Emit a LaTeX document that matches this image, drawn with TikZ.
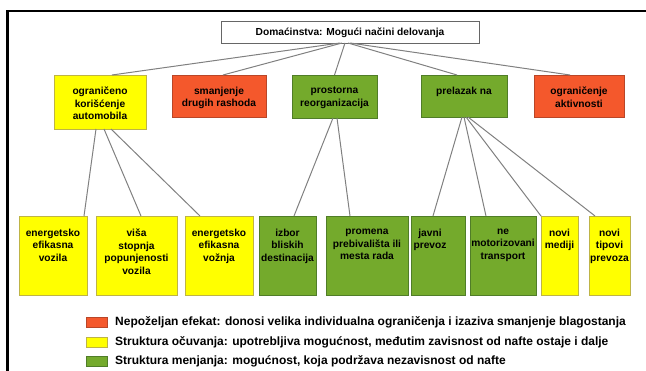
\documentclass[tikz,border=0pt]{standalone}
\usepackage{fontspec}
\setmainfont{Liberation Sans}
\usetikzlibrary{positioning}

\begin{document}
\begin{tikzpicture}[x=1pt,y=-1pt]

% Colors
\definecolor{Yfill}{RGB}{255,255,0}
\definecolor{Ydraw}{RGB}{190,180,70}
\definecolor{Rfill}{RGB}{244,88,44}
\definecolor{Rdraw}{RGB}{185,70,40}
\definecolor{Gfill}{RGB}{116,170,44}
\definecolor{Gdraw}{RGB}{80,125,40}
\definecolor{linkgray}{RGB}{128,128,128}

% Styles
\tikzset{
  box/.style={
    rectangle,
    anchor=north west,
    inner sep=0pt,
    outer sep=0pt,
    line width=0.8pt
  },
  Ybox/.style={box, draw=Ydraw, fill=Yfill},
  Rbox/.style={box, draw=Rdraw, fill=Rfill},
  Gbox/.style={box, draw=Gdraw, fill=Gfill},
  Wbox/.style={box, draw=black!60, fill=white},
  btext/.style={
    anchor=north,
    align=center,
    inner sep=0pt,
    font=\bfseries\fontsize{10.2}{12.8}\selectfont
  },
  ltext/.style={
    anchor=west,
    inner sep=0pt,
    font=\bfseries\fontsize{12}{14}\selectfont
  },
  link/.style={draw=linkgray, line width=1pt}
}

\useasboundingbox (0,0) rectangle (646,371);

% Frame
\draw[line width=2.4pt] (7.5,371) |- (646,11);

% Top box
\node[Wbox, minimum width=258pt, minimum height=22pt] (top) at (221,21) {};
\node[btext, anchor=center] (topt) at ([yshift=-1pt]top.center) {Domaćinstva: Mogući načini delovanja};

% Middle row
\node[Ybox, minimum width=92pt, minimum height=54pt] (m1) at (54,75) {};
\node[Rbox, minimum width=94pt, minimum height=42pt] (m2) at (172,75) {};
\node[Gbox, minimum width=85pt, minimum height=43pt] (m3) at (292,75) {};
\node[Gbox, minimum width=86pt, minimum height=42pt] (m4) at (421,75) {};
\node[Rbox, minimum width=90pt, minimum height=42pt] (m5) at (534,75) {};

\node[btext] (m1t) at ([yshift=-11.5pt]m1.north) {ograničeno\\korišćenje\\automobila};
\node[btext] (m2t) at ([yshift=-11.5pt]m2.north) {smanjenje\\drugih rashoda};
\node[btext] (m3t) at ([yshift=-11.5pt]m3.north) {prostorna\\reorganizacija};
\node[btext] (m4t) at ([yshift=-11.5pt]m4.north) {prelazak na};
\node[btext] (m5t) at ([yshift=-11.5pt]m5.north) {ograničenje\\aktivnosti};

% Bottom row
\node[Ybox, minimum width=68pt, minimum height=79pt] (b1) at (19,216) {};
\node[Ybox, minimum width=81pt, minimum height=79pt] (b2) at (96,216) {};
\node[Ybox, minimum width=68pt, minimum height=79pt] (b3) at (185,216) {};
\node[Gbox, minimum width=57pt, minimum height=79pt] (b4) at (259,216) {};
\node[Gbox, minimum width=82pt, minimum height=79pt] (b5) at (326,216) {};
\node[Gbox, minimum width=54pt, minimum height=79pt] (b6) at (411,216) {};
\node[Gbox, minimum width=66pt, minimum height=79pt] (b7) at (470,216) {};
\node[Ybox, minimum width=37pt, minimum height=79pt] (b8) at (541,216) {};
\node[Ybox, minimum width=41pt, minimum height=79pt] (b9) at (589,216) {};

\node[btext] (b1t) at ([yshift=-12.5pt]b1.north) {energetsko\\efikasna\\vozila};
\node[btext] (b2t) at ([yshift=-12.5pt]b2.north) {viša\\stopnja\\popunjenosti\\vozila};
\node[btext] (b3t) at ([yshift=-12.5pt]b3.north) {energetsko\\efikasna\\vožnja};
\node[btext] (b4t) at ([yshift=-12.5pt]b4.north) {izbor\\bliskih\\destinacija};
\node[btext] (b5t) at ([yshift=-12.5pt]b5.north) {promena\\prebivališta ili\\mesta rada};
\node[btext] (b6t) at ([xshift=-8pt,yshift=-12.5pt]b6.north) {javni\\prevoz};
\node[btext] (b7t) at ([yshift=-12.5pt]b7.north) {ne\\motorizovani\\transport};
\node[btext] (b8t) at ([yshift=-12.5pt]b8.north) {novi\\mediji};
\node[btext] (b9t) at ([yshift=-12.5pt]b9.north) {novi\\tipovi\\prevoza};

% Links top -> middle
\draw[link] ([xshift=-10pt]top.south) -- ([xshift=12pt]m1.north);
\draw[link] ([xshift=-8pt]top.south) -- ([xshift=4pt]m2.north);
\draw[link] ([xshift=-5pt]top.south) -- (m3.north);
\draw[link] ([xshift=-2pt]top.south) -- ([xshift=-7pt]m4.north);
\draw[link] (top.south) -- ([xshift=-9pt]m5.north);

% Links middle -> bottom
\draw[link] ([xshift=-4pt]m1.south) -- ([xshift=31pt]b1.north);
\draw[link] ([xshift=4pt]m1.south) -- ([xshift=4.5pt]b2.north);
\draw[link] ([xshift=11pt]m1.south) -- ([xshift=-19pt]b3.north);
\draw[link] ([xshift=-1.5pt]m3.south) -- ([xshift=6.5pt]b4.north);
\draw[link] ([xshift=2.5pt]m3.south) -- ([xshift=-17pt]b5.north);
\draw[link] ([xshift=-2pt]m4.south) -- ([xshift=-5pt]b6.north);
\draw[link] (m4.south) -- ([xshift=-17pt]b7.north);
\draw[link] ([xshift=2pt]m4.south) -- (b8.north west);
\draw[link] ([xshift=4pt]m4.south) -- ([xshift=-14.5pt]b9.north);

% Legend
\node[Rbox, minimum width=21pt, minimum height=10pt] (kr) at (86,317) {};
\node[Ybox, minimum width=21pt, minimum height=10pt] (ky) at (86,337) {};
\node[Gbox, minimum width=21pt, minimum height=10pt] (kg) at (86,356) {};
\node[ltext] (krt) at ([xshift=8pt]kr.east) {Nepoželjan efekat: donosi velika individualna ograničenja i izaziva smanjenje blagostanja};
\node[ltext] (kyt) at ([xshift=8pt]ky.east) {Struktura očuvanja: upotrebljiva mogućnost, međutim zavisnost od nafte ostaje i dalje};
\node[ltext] (kgt) at ([xshift=8pt]kg.east) {Struktura menjanja: mogućnost, koja podržava nezavisnost od nafte};

\end{tikzpicture}
\end{document}
